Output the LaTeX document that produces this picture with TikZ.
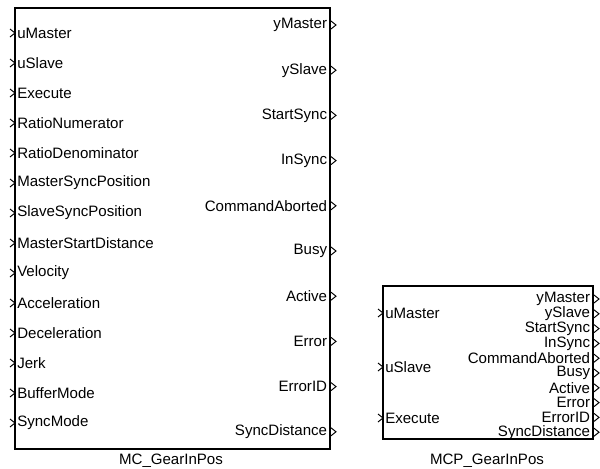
\documentclass[tikz,border=0pt]{standalone}
\usepackage{fontspec}
\setmainfont{Liberation Sans}
\usetikzlibrary{fit}

\begin{document}
\begin{tikzpicture}[x=0.75pt,y=-0.75pt,
block/.style={draw,line width=1pt,inner sep=0pt},
inlab/.style={anchor=west,inner sep=1.5pt,font=\fontsize{11.3}{13}\selectfont},
outlab/.style={anchor=east,inner sep=2pt,font=\fontsize{11.3}{13}\selectfont},
title/.style={font=\fontsize{11.3}{13}\selectfont},
port/.pic={\draw[line width=0.75pt] (-5,-4) -- (0,0) -- (-5,4);}]
\useasboundingbox (0,0) rectangle (600,468);
% left block
\node[block,fit={(15,8) (330,449)}] (mc) {};
\node[title] (mcname) at (171,461) {MC\_GearInPos};
\node[inlab] (mcu1) at (15,33) {uMaster};
\node[inlab] (mcu2) at (15,63) {uSlave};
\node[inlab] (mcu3) at (15,93) {Execute};
\node[inlab] (mcu4) at (15,123) {RatioNumerator};
\node[inlab] (mcu5) at (15,153) {RatioDenominator};
\node[inlab] (mcu6) at (15,183) {MasterSyncPosition};
\node[inlab] (mcu7) at (15,213) {SlaveSyncPosition};
\node[inlab] (mcu8) at (15,243) {MasterStartDistance};
\node[inlab] (mcu9) at (15,273) {Velocity};
\node[inlab] (mcu10) at (15,303) {Acceleration};
\node[inlab] (mcu11) at (15,333) {Deceleration};
\node[inlab] (mcu12) at (15,363) {Jerk};
\node[inlab] (mcu13) at (15,393) {BufferMode};
\node[inlab] (mcu14) at (15,423) {SyncMode};
\foreach \y in {33,63,...,423} \pic at (15,\y) {port};
\node[outlab] (mcy1) at (330,25) {yMaster};
\node[outlab] (mcy2) at (330,70.2) {ySlave};
\node[outlab] (mcy3) at (330,115.4) {StartSync};
\node[outlab] (mcy4) at (330,160.6) {InSync};
\node[outlab] (mcy5) at (330,205.8) {CommandAborted};
\node[outlab] (mcy6) at (330,251) {Busy};
\node[outlab] (mcy7) at (330,296.2) {Active};
\node[outlab] (mcy8) at (330,341.4) {Error};
\node[outlab] (mcy9) at (330,386.6) {ErrorID};
\node[outlab] (mcy10) at (330,431.8) {SyncDistance};
\foreach \y in {25,70.2,...,432} \pic at (336,\y) {port};
% right block
\node[block,fit={(383,286) (593,439)}] (mcp) {};
\node[title] (mcpname) at (487,461) {MCP\_GearInPos};
\node[inlab] (mcpu1) at (383,313) {uMaster};
\node[inlab] (mcpu2) at (383,367) {uSlave};
\node[inlab] (mcpu3) at (383,418) {Execute};
\foreach \y in {313,367,418} \pic at (383,\y) {port};
\node[outlab] (mcpy1) at (593,299) {yMaster};
\node[outlab] (mcpy2) at (593,313.8) {ySlave};
\node[outlab] (mcpy3) at (593,328.6) {StartSync};
\node[outlab] (mcpy4) at (593,343.4) {InSync};
\node[outlab] (mcpy5) at (593,358.2) {CommandAborted};
\node[outlab] (mcpy6) at (593,373) {Busy};
\node[outlab] (mcpy7) at (593,387.8) {Active};
\node[outlab] (mcpy8) at (593,402.6) {Error};
\node[outlab] (mcpy9) at (593,417.4) {ErrorID};
\node[outlab] (mcpy10) at (593,432.2) {SyncDistance};
\foreach \y in {299,313.8,...,433} \pic at (599,\y) {port};
\end{tikzpicture}
\end{document}
